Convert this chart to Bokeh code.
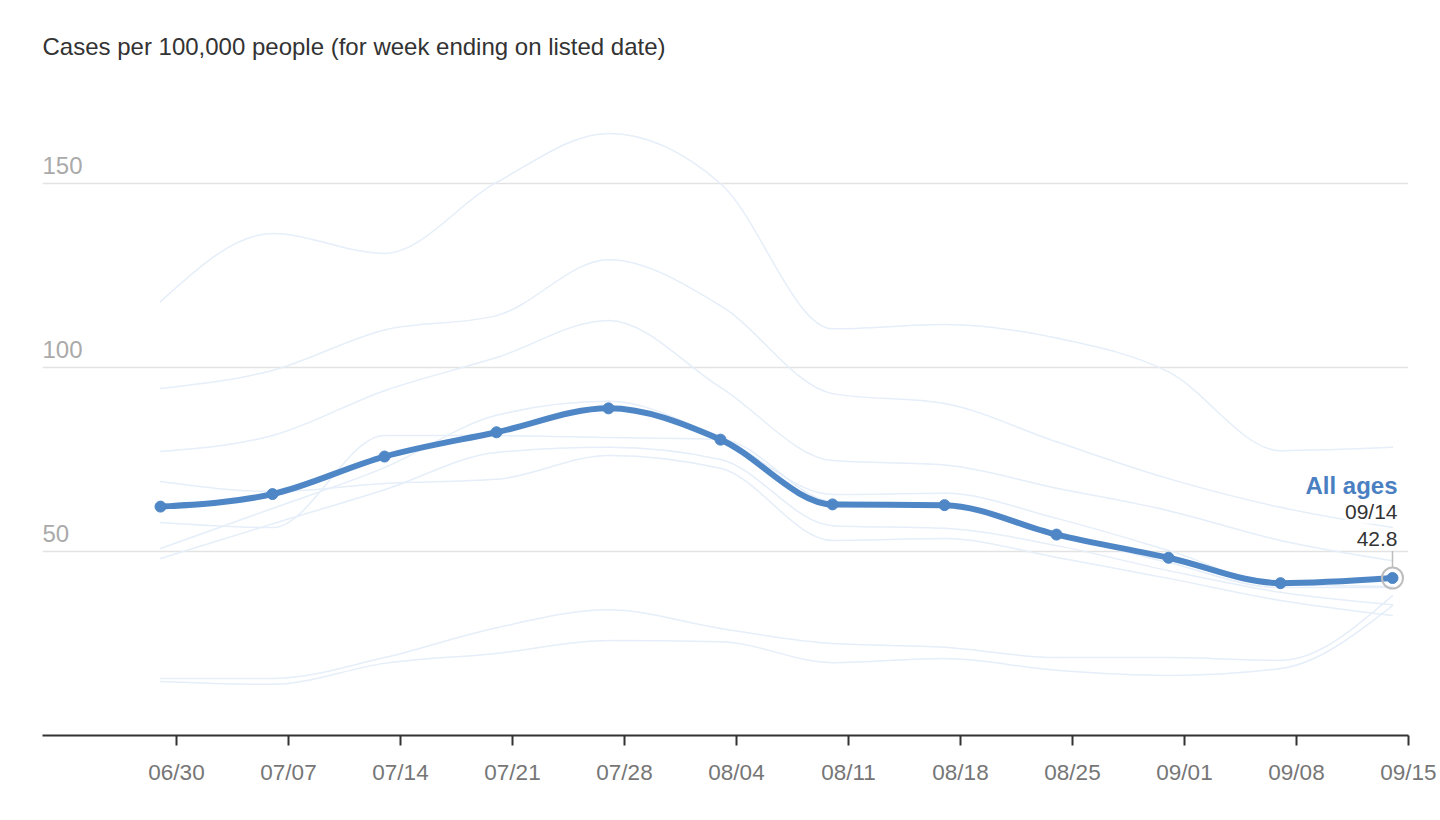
import numpy as np
import pandas as pd
from bokeh.plotting import figure
from bokeh.models import FixedTicker, DatetimeTickFormatter, Range1d
from bokeh.core.properties import value
from bokeh.embed import file_html
from bokeh.resources import INLINE

# ---------------- data ----------------
YEAR = 2024
week_ending = ["06/29", "07/06", "07/13", "07/20", "07/27", "08/03",
               "08/10", "08/17", "08/24", "08/31", "09/07", "09/14"]

all_ages = [62.2, 65.6, 75.8, 82.4, 88.9, 80.4, 62.8, 62.6, 54.6, 48.3, 41.4, 42.8]

age_group_1 = [117.9, 136.4, 131.0, 150.3, 163.6, 150.0, 110.5, 111.7, 108.0, 98.8, 77.4, 78.3]
age_group_2 = [94.3, 99.2, 110.2, 114.1, 129.3, 116.8, 92.9, 90.2, 79.8, 69.8, 62.0, 56.5]
age_group_3 = [77.2, 81.5, 93.7, 102.7, 112.8, 94.6, 74.7, 73.5, 67.2, 61.1, 53.0, 47.5]
age_group_4 = [69.0, 66.3, 68.5, 69.6, 76.1, 72.6, 53.0, 53.5, 48.4, 42.7, 36.7, 32.6]
age_group_5 = [57.9, 56.5, 81.5, 81.5, 81.0, 80.5, 63.5, 62.5, 55.0, 47.0, 40.2, 40.2]
age_group_6 = [50.8, 61.7, 72.8, 87.0, 90.8, 81.0, 65.5, 65.8, 59.0, 50.3, 41.0, 40.5]
age_group_7 = [48.1, 57.5, 66.8, 76.9, 78.3, 75.0, 57.0, 56.3, 51.6, 44.8, 38.9, 35.5]
age_group_8 = [15.5, 15.5, 21.2, 29.3, 34.2, 29.1, 25.0, 24.0, 21.2, 21.2, 20.4, 38.0]
age_group_9 = [14.7, 13.9, 19.6, 22.3, 25.8, 25.5, 19.8, 20.9, 17.7, 16.3, 18.2, 35.3]

age_groups = [age_group_1, age_group_2, age_group_3, age_group_4, age_group_5,
              age_group_6, age_group_7, age_group_8, age_group_9]

tick_labels = ["06/30", "07/07", "07/14", "07/21", "07/28", "08/04",
               "08/11", "08/18", "08/25", "09/01", "09/08", "09/15"]
y_ticks = [50, 100, 150]

series_label = "All ages"
title_text = "Cases per 100,000 people (for week ending on listed date)"

# ---------------- helpers ----------------
EPOCH = pd.Timestamp("1970-01-01")
DAY = 86400000.0


def to_ms(labels):
    return np.array([(pd.Timestamp(f"{YEAR}-{s.replace('/', '-')}") - EPOCH).total_seconds() * 1000.0
                     for s in labels])


def sgn(v):
    return -1.0 if v < 0 else 1.0


def monotone_segments(xs, ys):
    """Bezier segments of a monotone-x cubic curve through the given points."""
    xs = np.asarray(xs, float)
    ys = np.asarray(ys, float)
    n = len(xs)
    h = np.diff(xs)
    s = np.diff(ys) / h
    t = np.zeros(n)
    for i in range(1, n - 1):
        h0, h1, s0, s1 = h[i - 1], h[i], s[i - 1], s[i]
        p = (s0 * h1 + s1 * h0) / (h0 + h1)
        t[i] = (sgn(s0) + sgn(s1)) * min(abs(s0), abs(s1), 0.5 * abs(p))
    t[0] = (3 * s[0] - t[1]) / 2
    t[-1] = (3 * s[-1] - t[-2]) / 2
    dx = h / 3.0
    return dict(x0=xs[:-1], y0=ys[:-1], x1=xs[1:], y1=ys[1:],
                cx0=xs[:-1] + dx, cy0=ys[:-1] + dx * t[:-1],
                cx1=xs[1:] - dx, cy1=ys[1:] - dx * t[1:])


x = to_ms(week_ending)
ticks = to_ms(tick_labels)

# ---------------- layout ----------------
W, H = 1436, 815
B_LEFT, B_RIGHT, B_TOP, B_BOTTOM = 42, 28, 70, 80
FRAME_H = H - B_TOP - B_BOTTOM
PX_PER_UNIT = 3.68
x_start = ticks[0] - 8.375 * DAY
x_end = ticks[-1]

FONT = value("Liberation Sans")
MAIN = "#4e86c6"
FAINT = "#e5eef9"

p = figure(width=W, height=H, x_axis_type="datetime",
           x_range=Range1d(x_start, x_end), y_range=Range1d(0, FRAME_H / PX_PER_UNIT),
           output_backend="svg", toolbar_location=None,
           min_border_left=B_LEFT, min_border_right=B_RIGHT,
           min_border_top=B_TOP, min_border_bottom=B_BOTTOM,
           title=title_text)

p.outline_line_color = None
p.background_fill_color = "white"
p.border_fill_color = "white"

p.title.text_font = "Liberation Sans"
p.title.text_font_size = "24px"
p.title.text_font_style = "normal"
p.title.text_color = "#333333"
p.title.align = "left"
p.title.standoff = 21

p.yaxis.visible = False
p.xgrid.visible = False
p.ygrid.ticker = FixedTicker(ticks=y_ticks)
p.ygrid.grid_line_color = "#e3e3e3"
p.ygrid.grid_line_width = 1.5

ax = p.xaxis[0]
ax.ticker = FixedTicker(ticks=list(ticks), minor_ticks=[])
fmt = "%m/%d"
ax.formatter = DatetimeTickFormatter(days=fmt, months=fmt, hours=fmt, years=fmt)
ax.axis_line_color = "#333333"
ax.axis_line_width = 2
ax.major_tick_line_color = "#333333"
ax.major_tick_line_width = 2
ax.major_tick_in = 0
ax.major_tick_out = 10
ax.minor_tick_line_color = None
ax.major_label_text_font = "Liberation Sans"
ax.major_label_text_font_size = "22.5px"
ax.major_label_text_color = "#767676"
ax.major_label_standoff = 14

# y tick labels drawn above the grid lines, at the left edge
p.text(x=[x_start] * len(y_ticks), y=y_ticks, text=[str(v) for v in y_ticks],
       text_font=FONT, text_font_size="24px", text_color="#aaaaaa",
       text_align="left", text_baseline="alphabetic", y_offset=-18)

# faint age-group lines
for g in age_groups:
    seg = monotone_segments(x, g)
    p.bezier(source=seg, x0="x0", y0="y0", x1="x1", y1="y1",
             cx0="cx0", cy0="cy0", cx1="cx1", cy1="cy1",
             line_color=FAINT, line_width=1.5, line_cap="round")

# main line
seg = monotone_segments(x, all_ages)
p.bezier(source=seg, x0="x0", y0="y0", x1="x1", y1="y1",
         cx0="cx0", cy0="cy0", cx1="cx1", cy1="cy1",
         line_color=MAIN, line_width=6, line_cap="round")
p.scatter(x=x, y=all_ages, size=11, color=MAIN)

# highlight of the last point
xl, yl = x[-1], all_ages[-1]
p.segment(x0=[xl], y0=[yl + 10 / PX_PER_UNIT], x1=[xl], y1=[yl + 27 / PX_PER_UNIT],
          line_color="#bdbdbd", line_width=1.5)
p.scatter(x=[xl], y=[yl], size=21, fill_color=None, line_color="#bdbdbd", line_width=2)

last_date = week_ending[-1]
p.text(x=[xl], y=[yl], text=[series_label], x_offset=5, y_offset=-92,
       text_font=FONT, text_font_size="24px", text_font_style="bold", text_color="#4a80c2",
       text_align="right", text_baseline="alphabetic",
       background_fill_color="white")
p.text(x=[xl], y=[yl], text=[last_date], x_offset=5, y_offset=-66,
       text_font=FONT, text_font_size="21px", text_color="#333333",
       text_align="right", text_baseline="alphabetic",
       background_fill_color="white")
p.text(x=[xl], y=[yl], text=[f"{yl:.1f}"], x_offset=5, y_offset=-39,
       text_font=FONT, text_font_size="21px", text_color="#333333",
       text_align="right", text_baseline="alphabetic",
       background_fill_color="white")

open("out.html", "w").write(file_html(p, INLINE))
